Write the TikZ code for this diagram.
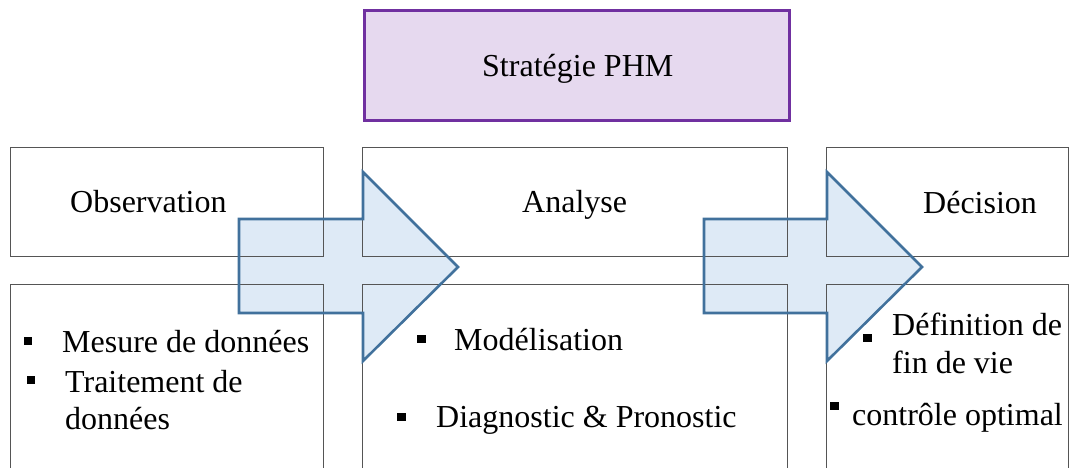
\documentclass[tikz,border=0pt]{standalone}
\usepackage{fontspec}
\setmainfont{Liberation Serif}
\definecolor{phmborder}{HTML}{7030A0}
\definecolor{phmfill}{HTML}{E6D9EF}
\definecolor{arrowline}{HTML}{41719C}
\definecolor{arrowfill}{HTML}{DEEAF6}
\definecolor{boxline}{HTML}{555555}
\begin{document}
\begin{tikzpicture}[x=1pt,y=-1pt,
  txt/.style={anchor=base west,inner sep=0pt,font=\fontsize{32}{38}\selectfont},
  colbox/.style={draw=boxline,line width=0.9pt,anchor=north west,inner sep=0pt},
  openbox/.style={draw=boxline,line width=0.9pt},
  bigarrowfill/.style={fill=arrowfill},
  bigarrowline/.style={draw=arrowline,line width=2.6pt,line join=miter},
  bulletsq/.style={fill=black}]
\useasboundingbox (0,0) rectangle (1070,468);
% top box
\node[draw=phmborder,fill=phmfill,line width=2.6pt,anchor=north west,minimum width=425pt,minimum height=110pt,inner sep=0pt] (phm) at (363,9) {};
% arrow fills
\path[bigarrowfill] (239,219) -- (363,219) -- (363,172) -- (458,267) -- (363,361) -- (363,313) -- (239,313) -- cycle;
\path[bigarrowfill] (704,219) -- (827,219) -- (827,172) -- (922,267) -- (827,361) -- (827,313) -- (704,313) -- cycle;
% column boxes
\node[colbox,minimum width=313pt,minimum height=109pt] (obs) at (10,147) {};
\node[colbox,minimum width=425pt,minimum height=109pt] (ana) at (362,147) {};
\node[colbox,minimum width=242pt,minimum height=109pt] (dec) at (826,147) {};
\draw[openbox] (10,475) |- (323,284) -- (323,475);
\draw[openbox] (362,475) |- (787,284) -- (787,475);
\draw[openbox] (826,475) |- (1068,284) -- (1068,475);
% arrow outlines
\draw[bigarrowline] (239,219) -- (363,219) -- (363,172) -- (458,267) -- (363,361) -- (363,313) -- (239,313) -- cycle;
\draw[bigarrowline] (704,219) -- (827,219) -- (827,172) -- (922,267) -- (827,361) -- (827,313) -- (704,313) -- cycle;
% titles
\node[txt] (tphm) at (482,77) {Stratégie PHM};
\node[txt] (tobs) at (70,212) {Observation};
\node[txt] (tana) at (522,212) {Analyse};
\node[txt] (tdec) at (923,213) {Décision};
% bullets left
\fill[bulletsq] (24,337) rectangle (32,345);
\node[txt] (l1) at (62,352) {Mesure de données};
\fill[bulletsq] (27,376) rectangle (35,384);
\node[txt] (l2) at (65,392) {Traitement de};
\node[txt] (l3) at (65,429) {données};
% bullets middle
\fill[bulletsq] (417,335) rectangle (426,343);
\node[txt] (m1) at (454,350) {Modélisation};
\fill[bulletsq] (397,413) rectangle (406,421);
\node[txt] (m2) at (436,427) {Diagnostic \& Pronostic};
% bullets right
\fill[bulletsq] (863,334) rectangle (872,342);
\node[txt] (r1) at (892,335) {Définition de};
\node[txt] (r2) at (892,373) {fin de vie};
\fill[bulletsq] (830,402) rectangle (839,410);
\node[txt] (r3) at (852,425) {contrôle optimal};
\end{tikzpicture}
\end{document}
